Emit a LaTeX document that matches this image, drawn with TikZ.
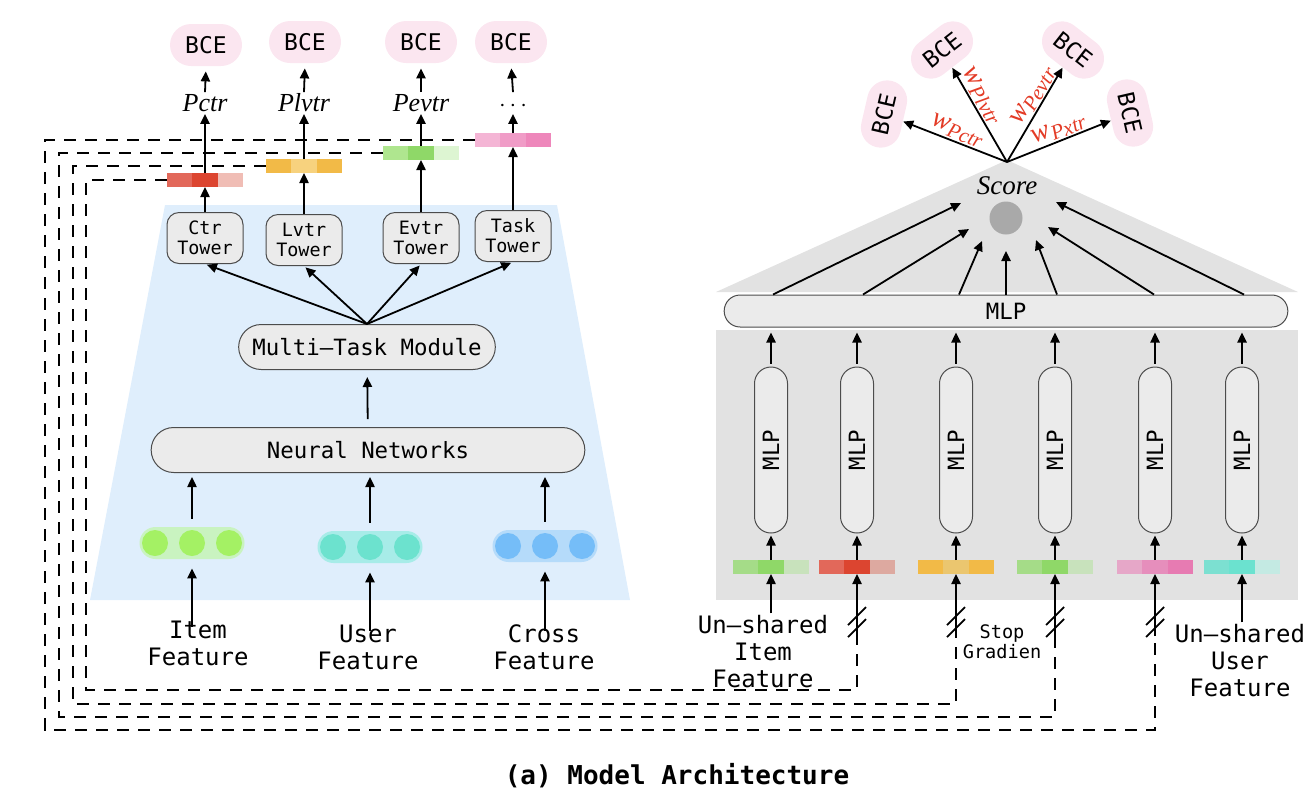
\documentclass[tikz,border=0pt]{standalone}
\usepackage{fontspec}
\setmainfont{Liberation Serif}
\setmonofont{DejaVu Sans Mono}
\usetikzlibrary{arrows.meta,positioning,shapes.misc,calc}

\definecolor{trapblue}{HTML}{DFEEFC}
\definecolor{panelgray}{HTML}{E2E2E2}
\definecolor{boxgray}{HTML}{EBEBEB}
\definecolor{bcepink}{HTML}{FBE6F0}
\definecolor{dotgray}{HTML}{A9A9A9}
\definecolor{wred}{HTML}{E33B26}
\definecolor{itembg}{HTML}{C9F3C0}\definecolor{itemdot}{HTML}{A4F164}
\definecolor{userbg}{HTML}{A7ECE8}\definecolor{userdot}{HTML}{6CE2CE}
\definecolor{crossbg}{HTML}{B5DBFA}\definecolor{crossdot}{HTML}{75BDF8}
% bar colours
\definecolor{reda}{HTML}{E2685A}\definecolor{redb}{HTML}{DC4530}\definecolor{redc}{HTML}{F0BDB5}
\definecolor{redd}{HTML}{DDA9A0}
\definecolor{orga}{HTML}{F2BA47}\definecolor{orgb}{HTML}{F7D27E}\definecolor{orgc}{HTML}{EBC66F}
\definecolor{grna}{HTML}{AFE68F}\definecolor{grnb}{HTML}{8FD868}\definecolor{grnc}{HTML}{DDF5D2}
\definecolor{grnd}{HTML}{A5DC88}\definecolor{grne}{HTML}{C8E2BC}
\definecolor{pnka}{HTML}{F4B5D5}\definecolor{pnkb}{HTML}{F09CC7}\definecolor{pnkc}{HTML}{EE87BB}
\definecolor{pnkd}{HTML}{E6A7C8}\definecolor{pnke}{HTML}{E68EBC}\definecolor{pnkf}{HTML}{E77BB2}
\definecolor{tela}{HTML}{7CE0D1}\definecolor{telb}{HTML}{6BE2CF}\definecolor{telc}{HTML}{C4EAE3}

\tikzset{
  arr/.style={-{Triangle[length=5pt,width=4.6pt]}, line width=0.9pt},
  dsh/.style={line width=0.8pt, dash pattern=on 6pt off 4.5pt},
  box/.style={draw=black!70, line width=0.5pt, fill=boxgray, font=\ttfamily\fontsize{11.2}{12}\selectfont},
  pill/.style={box, rounded rectangle},
  tower/.style={box, rounded corners=6pt, minimum width=38pt, minimum height=25.5pt, inner sep=1pt, align=center, font=\ttfamily\fontsize{9.2}{10}\selectfont},
  bce/.style={fill=bcepink, rounded rectangle, minimum width=38pt, minimum height=21pt, inner sep=1pt, font=\ttfamily\fontsize{11.5}{12}\selectfont},
  prob/.style={font=\itshape\fontsize{13}{14}\selectfont, inner sep=1pt, text height=8.5pt, text depth=0pt},
  feat/.style={align=center, font=\ttfamily\fontsize{12}{13.5}\selectfont, inner sep=1pt},
  seg/.style={minimum width=12.7pt, minimum height=7pt, inner sep=0pt, outer sep=0pt},
  emb/.style={rounded rectangle, minimum width=52.5pt, minimum height=16pt, inner sep=0pt},
  wlab/.style={text=wred, font=\itshape\fontsize{14}{15}\selectfont, sloped, above, inner sep=0.5pt},
}

% three-part embedding bar: name, position, left/mid/right colour
\newcommand{\embbar}[5]{%
  \node[seg, fill=#4] (#1) at #2 {};
  \node[seg, fill=#3, anchor=east] (#1l) at (#1.west) {};
  \node[seg, fill=#5, anchor=west] (#1r) at (#1.east) {};
}
% embedding with three dots: name, position, background, dot colour
\newcommand{\embdots}[4]{%
  \node[emb, fill=#3] (#1) at #2 {};
  \foreach \dx in {-37,0,37} \fill[#4] ($(#1)+(\dx,0)$) circle (6.5pt);
}
% loss weight label
\newcommand{\lw}[1]{w\raisebox{-2.5pt}{\fontsize{10.5}{11}\selectfont #1}}

\begin{document}
\begin{tikzpicture}[x=0.5pt,y=-0.5pt]
\useasboundingbox (0,0) rectangle (1316,794);

% backgrounds
\fill[trapblue] (165,205) -- (557,205) -- (630,600) -- (90,600) -- cycle;
\fill[panelgray] (1007,160) -- (1298,292) -- (716,292) -- cycle;
\fill[panelgray] (716,330) rectangle (1298,600);

% shared multi-task network
\node[tower] (ctr) at (205,238) {Ctr\\Tower};
\node[tower] (lvtr) at (304,240) {Lvtr\\Tower};
\node[tower] (evtr) at (421,238) {Evtr\\Tower};
\node[tower] (task) at (513,236) {Task\\Tower};
\node[pill, minimum width=135pt, minimum height=22.5pt] (mtm) at (367,347) {Multi–Task Module};
\node[pill, minimum width=223.5pt, minimum height=22.5pt] (nn) at (368,450) {Neural Networks};
\embdots{itememb}{(192,543)}{itembg}{itemdot}
\embdots{useremb}{(370,547)}{userbg}{userdot}
\embdots{crossemb}{(545,546)}{crossbg}{crossdot}
\node[feat] (item) at (198,643) {Item\\Feature};
\node[feat] (user) at (368,647) {User\\Feature};
\node[feat] (cross) at (544,647) {Cross\\Feature};

\foreach \f in {item,user,cross} {
  \draw[arr, shorten <=-4.5pt, shorten >=4.5pt] (\f emb.south |- \f.north) -- (\f emb.south);
  \draw[arr, shorten <=4pt, shorten >=2pt] (\f emb.north) -- (\f emb.north |- nn.south);
}
\draw[arr, shorten <=4pt, shorten >=3.5pt] (nn) -- (mtm);
\foreach \t in {ctr,lvtr,evtr,task}
  \draw[arr, shorten >=1pt] (mtm.north) -- (\t.south);

% tower outputs
\embbar{lbar1}{(205,180)}{reda}{redb}{redc}
\embbar{lbar2}{(304,166)}{orga}{orgb}{orga}
\embbar{lbar3}{(421,153)}{grna}{grnb}{grnc}
\embbar{lbar4}{(513,140)}{pnka}{pnkb}{pnkc}
\node[prob] (pctr) at (205,103) {Pctr};
\node[prob] (plvtr) at (304,103) {Plvtr};
\node[prob] (pevtr) at (421,103) {Pevtr};
\node[prob] (pmore) at (513,103) {$\cdots$};
\node[bce] (bce1) at (206,45) {BCE};
\node[bce] (bce2) at (305,42) {BCE};
\node[bce] (bce3) at (421,42) {BCE};
\node[bce] (bce4) at (511,42) {BCE};
\foreach \t/\b/\p/\l in {ctr/lbar1/pctr/bce1, lvtr/lbar2/plvtr/bce2, evtr/lbar3/pevtr/bce3, task/lbar4/pmore/bce4} {
  \draw[arr] (\t.north) -- (\t.north |- \b.south);
  \draw[arr] (\b.north) -- (\p.south);
  \draw[arr, shorten >=2.5pt] (\p.north) -- (\l.south);
}

% un-shared towers
\node[pill, minimum width=288.5pt, minimum height=16pt] (mlp) at (1006,311) {MLP};
\node[circle, fill=dotgray, minimum size=16.5pt, inner sep=0pt] (dot) at (1006,218) {};
\node[prob, font=\itshape\fontsize{13.5}{14}\selectfont] (score) at (1007,186) {Score};
\coordinate (apex) at (1007,162);
\foreach \i/\x in {1/771,2/857,3/956,4/1055,5/1155,6/1242}
  \node[pill, rotate=90, minimum width=85pt, minimum height=16.5pt, inner sep=1pt] (v\i) at (\x,450) {MLP};
\embbar{rb1}{(771,567)}{grnd}{grnb}{grne}
\embbar{rb2}{(857,567)}{reda}{redb}{redd}
\embbar{rb3}{(956,567)}{orga}{orgc}{orga}
\embbar{rb4}{(1055,567)}{grnd}{grnb}{grne}
\embbar{rb5}{(1155,567)}{pnkd}{pnke}{pnkf}
\embbar{rb6}{(1242,567)}{tela}{telb}{telc}
\foreach \i in {1,...,6} {
  \draw[arr, shorten >=1pt] (rb\i.north) -- (v\i.west);
  \draw[arr, shorten <=1.5pt, shorten >=2.5pt] (v\i.east) -- (v\i.east |- mlp.south);
}
\foreach \x/\dx/\dy in {773/-45/-15, 863/-37/11, 959/-24/23, 1006/0/33, 1057/30/22, 1154/42/9, 1244/50/-16}
  \draw[arr] (\x,0 |- mlp.north) -- ($(dot)+(\dx,\dy)$);

% weighted losses
\node[bce, rotate=77, minimum width=36pt, minimum height=20pt] (bcea) at (884,114) {BCE};
\node[bce, rotate=38, minimum width=36pt, minimum height=20pt] (bceb) at (942,50) {BCE};
\node[bce, rotate=-38, minimum width=36pt, minimum height=20pt] (bcec) at (1073,50) {BCE};
\node[bce, rotate=-77, minimum width=36pt, minimum height=20pt] (bced) at (1130,113) {BCE};
\draw[arr] (apex) -- (bcea) node[wlab, pos=0.52] {\lw{Pctr}};
\draw[arr] (apex) -- (bceb) node[wlab, pos=0.64] {\lw{Plvtr}};
\draw[arr] (apex) -- (bcec) node[wlab, pos=0.64] {\lw{Pevtr}};
\draw[arr] (apex) -- (bced) node[wlab, pos=0.54] {\lw{Pxtr}};

% inputs and stop gradient
\node[feat] (uitem) at (763,652) {Un–shared\\Item\\Feature};
\node[feat] (uuser) at (1240,661) {Un–shared\\User\\Feature};
\draw[arr] (uitem.north -| rb1.south) -- (rb1.south);
\draw[arr] (uuser.north -| rb6.south) -- (rb6.south);
\node[align=center, inner sep=0pt, font=\ttfamily\fontsize{9.3}{10}\selectfont] (stopg) at (1002,642) {Stop\\Gradien};
\foreach \i/\x in {1/857,2/956,3/1055,4/1155}
  \coordinate (sg\i) at (\x,636);
\foreach \i/\j in {1/2,2/3,3/4,4/5} {
  \draw[arr] (sg\i) -- (rb\j.south);
  \draw[line width=0.9pt] ($(sg\i)+(-9,-11)$) -- ($(sg\i)+(9,-29)$);
  \draw[line width=0.9pt] ($(sg\i)+(-9,1)$) -- ($(sg\i)+(9,-17)$);
}
\foreach \bn/\lx/\by/\s in {lbar1/86/690/sg1, lbar2/73/704/sg2, lbar3/59/717/sg3, lbar4/45/730/sg4}
  \draw[dsh] (\bn l.west) -| (\lx,\by) -| (\s);

\node[font=\ttfamily\bfseries\fontsize{13}{14}\selectfont] (caption) at (677,776) {(a) Model Architecture};
\end{tikzpicture}
\end{document}
